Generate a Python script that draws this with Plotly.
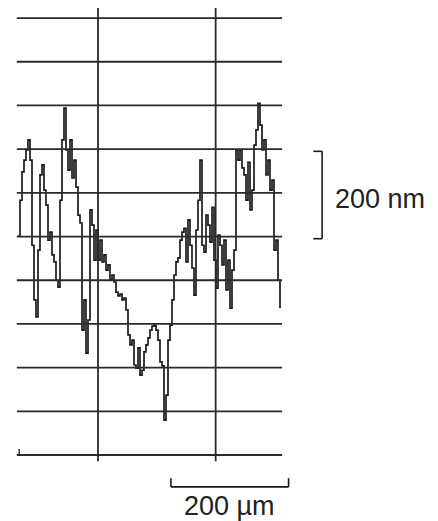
import plotly.graph_objects as go

# Surface profile (lateral position in µm, height in nm)
scan_step_um = 3.4
height_nm = [
    501, 583, 648, 675, 698, 721, 675, 480, 355, 316,
    469, 641, 664, 606, 572, 492, 510, 458, 442, 400,
    384, 583, 721, 794, 698, 652, 721, 634, 675, 613,
    549, 531, 286, 355, 233, 309, 561, 526, 446, 515,
    446, 492, 442, 458, 423, 435, 400, 412, 396, 373,
    364, 368, 355, 359, 332, 275, 252, 263, 206, 199,
    245, 183, 194, 236, 252, 268, 286, 295, 297, 286,
    263, 213, 204, 80, 137, 263, 297, 355, 412, 442,
    451, 492, 510, 519, 442, 538, 480, 428, 366, 515,
    583, 675, 480, 464, 549, 526, 487, 567, 446, 382,
    503, 480, 435, 492, 378, 446, 336, 423, 469, 698,
    675, 698, 657, 641, 583, 670, 561, 606, 709, 744,
    805, 755, 698, 721, 641, 675, 606, 629, 469, 492,
    400, 336,
]
position_um = [round(i * scan_step_um, 1) for i in range(len(height_nm))]

grid_heights_nm = [0, 100, 200, 300, 400, 500, 600, 700, 800, 900, 1000]
grid_positions_um = [136, 336]
scale_nm_label = "200 nm"
scale_um_label = "200 µm"

INK = "#1a1a1a"
FONT = dict(family="Liberation Sans, Arial, sans-serif", size=27, color="#222")

fig = go.Figure()
fig.add_trace(go.Scatter(
    x=position_um, y=height_nm, mode="lines", line_shape="hv",
    line=dict(color=INK, width=1.7), hoverinfo="skip", showlegend=False,
))

shapes = []
for h in grid_heights_nm:
    shapes.append(dict(type="line", xref="x", yref="y", x0=-2, x1=449, y0=h, y1=h,
                       line=dict(color="#2a2a2a", width=1.8)))
for p in grid_positions_um:
    shapes.append(dict(type="line", xref="x", yref="y", x0=p, x1=p, y0=-14, y1=1025,
                       line=dict(color="#2a2a2a", width=1.8)))
# small end tick at bottom-left of the chart
shapes.append(dict(type="line", xref="x", yref="y", x0=2, x1=2, y0=0, y1=14,
                   line=dict(color="#2a2a2a", width=1.4)))
# vertical scale bar (200 nm)
shapes += [
    dict(type="line", xref="x", yref="y", x0=517, x1=517, y0=495, y1=695, line=dict(color=INK, width=1.6)),
    dict(type="line", xref="x", yref="y", x0=502, x1=517, y0=695, y1=695, line=dict(color=INK, width=1.6)),
    dict(type="line", xref="x", yref="y", x0=502, x1=517, y0=495, y1=495, line=dict(color=INK, width=1.6)),
]
# horizontal scale bar (200 µm)
shapes += [
    dict(type="line", xref="x", yref="y", x0=260, x1=460, y0=-73, y1=-73, line=dict(color=INK, width=1.6)),
    dict(type="line", xref="x", yref="y", x0=260, x1=260, y0=-73, y1=-53, line=dict(color=INK, width=1.6)),
    dict(type="line", xref="x", yref="y", x0=460, x1=460, y0=-73, y1=-53, line=dict(color=INK, width=1.6)),
]

annotations = [
    dict(x=536, y=586, xref="x", yref="y", text=scale_nm_label, showarrow=False,
         xanchor="left", yanchor="middle", font=FONT),
    dict(x=360, y=-117, xref="x", yref="y", text=scale_um_label, showarrow=False,
         xanchor="center", yanchor="middle", font=FONT),
]

# The page body adds an 8 px offset, so the figure is 8 px smaller and its
# axis ranges start 8 px in from the page corner.
fig.update_layout(
    width=430, height=513,
    margin=dict(l=0, r=0, t=0, b=0),
    paper_bgcolor="white", plot_bgcolor="white",
    xaxis=dict(range=[-17.0, 714], visible=False, fixedrange=True),
    yaxis=dict(range=[-151, 1023], visible=False, fixedrange=True),
    shapes=shapes, annotations=annotations,
)

fig.write_html("out.html")
